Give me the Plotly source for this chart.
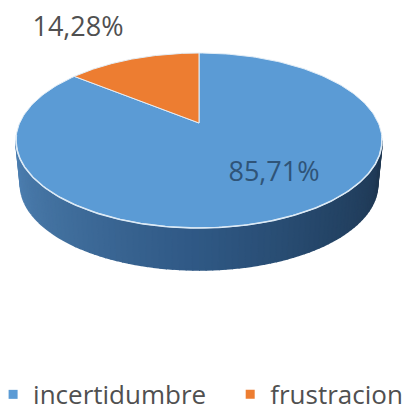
import numpy as np
import plotly.graph_objects as go

categories = ["incertidumbre", "frustracion"]
values = [85.71, 14.28]
labels = ["85,71%", "14,28%"]
colors = ["#5B9BD5", "#ED7D31"]

W, H = 406, 413
CX, APEX_Y, KX, A, C = 199.0, 123.0, 179.3, -59.4, 0.2
DEPTH, BOTTOM_SCALE = 44.0, 0.975


def project(theta):
    u, v = np.sin(theta), np.cos(theta)
    d = 1 + C * v
    return CX + KX * u / d, (A * v + APEX_Y) / d


def bottom(theta):
    x, y = project(theta)
    return CX + (x - CX) * BOTTOM_SCALE, 140 + (y - 140) * BOTTOM_SCALE + DEPTH


def lerp_color(t):
    stops = [(0.0, (78, 128, 178)), (0.25, (64, 110, 156)), (0.5, (47, 88, 132)),
             (0.75, (36, 68, 102)), (1.0, (30, 54, 80))]
    for (t0, c0), (t1, c1) in zip(stops, stops[1:]):
        if t <= t1:
            f = (t - t0) / (t1 - t0)
            return "rgb(%d,%d,%d)" % tuple(round(a + (b - a) * f) for a, b in zip(c0, c1))
    return "rgb(30,54,80)"


fig = go.Figure()

# side wall, left to right
t_right = np.pi - np.arccos(C)
edges = np.linspace(2 * np.pi - t_right, t_right, 91)
for i in range(len(edges) - 1):
    th = np.linspace(edges[i], edges[i + 1], 3)
    xt, yt = project(th)
    xb, yb = bottom(th[::-1])
    c = lerp_color(i / (len(edges) - 2))
    fig.add_trace(go.Scatter(x=np.r_[xt, xb], y=np.r_[yt, yb], mode="lines", fill="toself",
                             fillcolor=c, line=dict(color=c, width=2),
                             hoverinfo="skip", showlegend=False))

# top faces
total = sum(values)
start = 0.0
for val, col in zip(values, colors):
    th = np.linspace(start, start + 2 * np.pi * val / total, 240)
    x, y = project(th)
    fig.add_trace(go.Scatter(x=np.r_[CX, x, CX], y=np.r_[APEX_Y, y, APEX_Y], mode="lines", fill="toself",
                             fillcolor=col, line=dict(color="#E3EEF7", width=1),
                             hoverinfo="skip", showlegend=False))
    start += 2 * np.pi * val / total

# light rim on the front edge
th = np.linspace(np.radians(100), np.radians(262), 200)
x, y = project(th)
fig.add_trace(go.Scatter(x=x, y=y, mode="lines", line=dict(color="#DCEAF6", width=1.6),
                         hoverinfo="skip", showlegend=False))

# data labels
fig.add_trace(go.Scatter(x=[274], y=[174], mode="text", text=[labels[0]],
                         textfont=dict(family="Open Sans", size=27, color="#2F5478"),
                         hoverinfo="skip", showlegend=False))
fig.add_trace(go.Scatter(x=[78], y=[29], mode="text", text=[labels[1]],
                         textfont=dict(family="Open Sans", size=27, color="#505050"),
                         hoverinfo="skip", showlegend=False))

# legend entries, each in its own legend so they can share one row
for name, col, lg in zip(categories, colors, ["legend", "legend2"]):
    fig.add_trace(go.Scatter(x=[None], y=[None], mode="markers", name=name, legend=lg,
                             marker=dict(symbol="square", size=9, color=col)))

legend_style = dict(xanchor="left", yanchor="bottom", y=-0.012, bgcolor="rgba(0,0,0,0)",
                    font=dict(family="Open Sans", size=26, color="#505050"), itemwidth=30)

fig.update_layout(
    width=W, height=H, margin=dict(l=0, r=0, t=0, b=0, autoexpand=False),
    paper_bgcolor="white", plot_bgcolor="white",
    xaxis=dict(range=[0, W], visible=False, fixedrange=True),
    yaxis=dict(range=[H, 0], visible=False, fixedrange=True),
    legend=dict(x=-0.017, **legend_style),
    legend2=dict(x=0.567, **legend_style),
)
fig.write_html("out.html", config=dict(displayModeBar=False),
               post_script="document.body.style.margin='0';")
